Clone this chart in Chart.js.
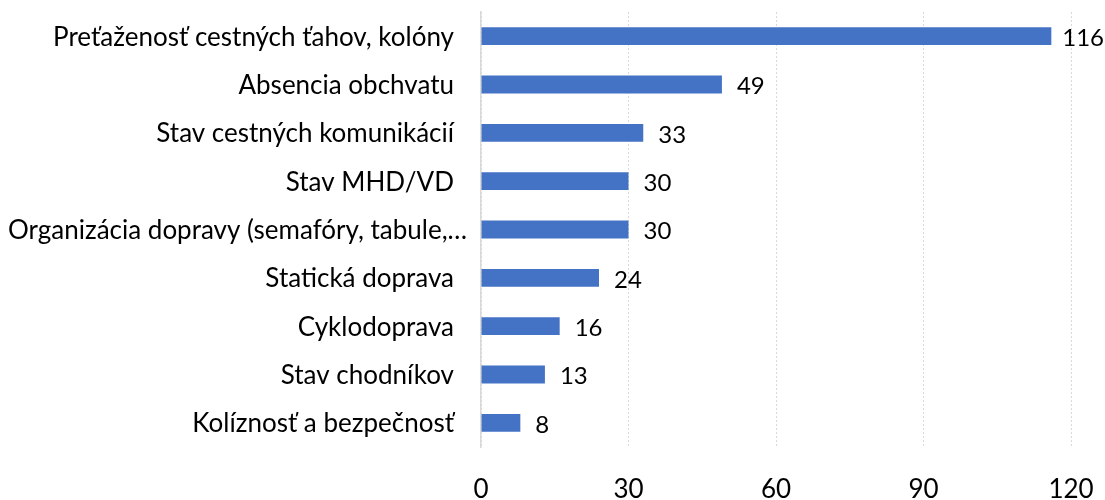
<!DOCTYPE html>
<html>
<head>
<meta charset="utf-8">
<script src="https://cdn.jsdelivr.net/npm/chart.js@4/dist/chart.umd.min.js"></script>
<style>
html,body{margin:0;padding:0;background:#fff;overflow:hidden;}
#wrap{width:1105px;height:500px;position:relative;}
canvas{display:block;}
</style>
</head>
<body>
<div id="wrap"><canvas id="c"></canvas></div>
<script>
const categories = [
  "Preťaženosť cestných ťahov, kolóny",
  "Absencia obchvatu",
  "Stav cestných komunikácií",
  "Stav MHD/VD",
  "Organizácia dopravy (semafóry, tabule,…",
  "Statická doprava",
  "Cyklodoprava",
  "Stav chodníkov",
  "Kolíznosť a bezpečnosť"
];
const values = [116, 49, 33, 30, 30, 24, 16, 13, 8];
const xTicks = [0, 30, 60, 90, 120];

const FONT = "Lato, 'Open Sans', sans-serif";

const valueLabels = {
  id: 'valueLabels',
  afterDatasetsDraw(chart) {
    const ctx = chart.ctx;
    const meta = chart.getDatasetMeta(0);
    ctx.save();
    ctx.font = "24px " + FONT;
    ctx.fillStyle = "#000";
    ctx.textAlign = "left";
    ctx.textBaseline = "middle";
    meta.data.forEach((bar, i) => {
      const t = String(values[i]);
      const w = ctx.measureText(t).width;
      const x = Math.min(bar.x + 15, chart.width - 1 - w);
      ctx.fillText(t, x, bar.y + 2);
    });
    ctx.restore();
  }
};

const yLabels = {
  id: 'yLabels',
  afterDraw(chart) {
    const ctx = chart.ctx;
    const ys = chart.scales.y;
    ctx.save();
    ctx.font = "26px " + FONT;
    ctx.fillStyle = "#000";
    ctx.textAlign = "right";
    ctx.textBaseline = "middle";
    categories.forEach((c, i) => {
      const w = ctx.measureText(c).width;
      const right = Math.max(chart.chartArea.left - 27, 8 + w);
      ctx.fillText(c, right, ys.getPixelForTick(i) + 1);
    });
    ctx.restore();
  }
};

new Chart(document.getElementById('c'), {
  type: 'bar',
  data: {
    labels: categories,
    datasets: [{
      data: values,
      backgroundColor: '#4472C4',
      barPercentage: 0.37,
      categoryPercentage: 1.0
    }]
  },
  options: {
    indexAxis: 'y',
    responsive: true,
    maintainAspectRatio: false,
    animation: false,
    layout: { padding: { top: 12, right: 34, left: 0, bottom: 0 } },
    plugins: { legend: { display: false }, tooltip: { enabled: false } },
    scales: {
      x: {
        min: 0, max: 120,
        afterBuildTicks(scale) { scale.ticks = xTicks.map(v => ({ value: v })); },
        afterFit(scale) { scale.height = 53; scale.paddingRight = 24; scale.paddingLeft = 8; },
        grid: { color: '#d9d9d9', lineWidth: 1, drawTicks: false },
        border: { display: false, dash: [2, 2] },
        ticks: { font: { size: 26, family: FONT }, color: '#000', padding: 27, maxRotation: 0 }
      },
      y: {
        afterFit(scale) { scale.width = 481; },
        grid: { display: false, drawTicks: false },
        border: { display: true, color: '#d9d9d9', width: 1.5 },
        ticks: { display: false }
      }
    }
  },
  plugins: [valueLabels, yLabels]
});
</script>
</body>
</html>
